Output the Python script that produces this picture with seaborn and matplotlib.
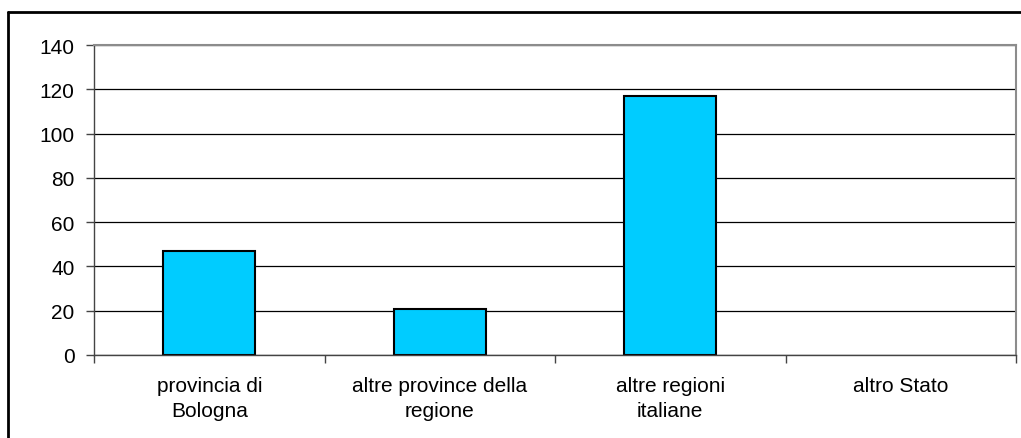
import matplotlib
matplotlib.use('Agg')
import matplotlib.pyplot as plt
from matplotlib.lines import Line2D
import pandas as pd
import seaborn as sns

# data
categories = ['provincia di\nBologna', 'altre province della\nregione',
              'altre regioni\nitaliane', 'altro Stato']
values = [47, 21, 117, 0]
y_ticks = [0, 20, 40, 60, 80, 100, 120, 140]

sns.set_style('white')
plt.rcParams['font.family'] = ['Liberation Sans', 'DejaVu Sans']
plt.rcParams['text.color'] = 'black'
plt.rcParams['xtick.color'] = 'black'
plt.rcParams['ytick.color'] = 'black'

df = pd.DataFrame({'origine': categories, 'n': values})

fig = plt.figure(figsize=(10.21, 4.39), dpi=100)
ax = fig.add_axes([94 / 1021, 1 - 356 / 439, (1016 - 94) / 1021, (356 - 46) / 439])

sns.barplot(data=df, x='origine', y='n', color='#00CCFF', saturation=1,
            edgecolor='black', linewidth=1.5, width=0.4, ax=ax)

# an empty category draws nothing in the reference
for patch in ax.patches:
    if patch.get_height() == 0:
        patch.set_visible(False)

ax.set_ylim(0, 140)
ax.set_xlim(-0.5, len(categories) - 0.5)
ax.set_yticks(y_ticks)
ax.set_xlabel('')
ax.set_ylabel('')

# gridlines
ax.set_axisbelow(True)
ax.yaxis.grid(True, color='black', linewidth=0.9)
ax.xaxis.grid(False)

# spines
for side in ['top', 'right']:
    ax.spines[side].set_visible(True)
    ax.spines[side].set_color('#8c8c8c')
    ax.spines[side].set_linewidth(1.5)
ax.spines['left'].set_color('#444444')
ax.spines['bottom'].set_color('#444444')
ax.spines['left'].set_linewidth(1.0)
ax.spines['bottom'].set_linewidth(1.0)

# ticks: y ticks outward, x ticks at category boundaries
ax.tick_params(axis='y', direction='out', length=6, width=1, color='#444444',
               labelsize=15, pad=8, left=True)
ax.set_xticks([i - 0.5 for i in range(len(categories) + 1)], minor=True)
ax.tick_params(axis='x', which='major', length=0, labelsize=15, pad=15)
ax.tick_params(axis='x', which='minor', direction='out', length=6, width=1,
               color='#444444', bottom=True)
for lbl in ax.get_xticklabels():
    lbl.set_linespacing(1.4)

# outer chart border (left and top edges visible in the reference)
fig.add_artist(Line2D([8 / 1021, 8 / 1021], [0, 1 - 13 / 439],
                      transform=fig.transFigure, color='black', linewidth=2))
fig.add_artist(Line2D([8 / 1021, 1], [1 - 13 / 439, 1 - 13 / 439],
                      transform=fig.transFigure, color='black', linewidth=2))

fig.savefig('out.png', dpi=100)
